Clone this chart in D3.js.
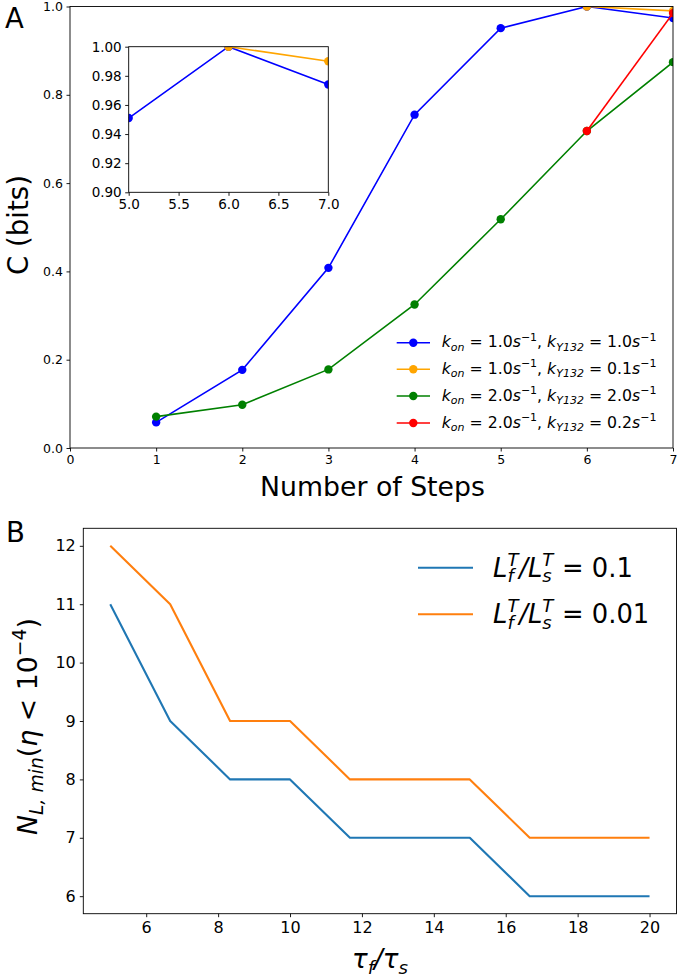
<!DOCTYPE html>
<html><head><meta charset="utf-8">
<script src="https://cdn.jsdelivr.net/npm/d3@7"></script>
<style>body{margin:0;background:#fff} svg{display:block} text{font-family:"DejaVu Sans",sans-serif;fill:#000}</style>
</head><body><svg id="c" width="678" height="978"></svg>
<script>
// ---------- Data: panel A ----------
const stepsX   = [1, 2, 3, 4, 5, 6, 7];
const stepTicks = [0, 1, 2, 3, 4, 5, 6, 7];
const cTicks   = [0.0, 0.2, 0.4, 0.6, 0.8, 1.0];
const blueC    = [0.058, 0.177, 0.408, 0.755, 0.951, 1.000, 0.974];
const orangeX  = [6, 7];
const orangeC  = [1.000, 0.990];
const greenC   = [0.071, 0.098, 0.178, 0.325, 0.518, 0.718, 0.874];
const redX     = [6, 7];
const redC     = [0.718, 0.985];
const insetXTicks = [5.0, 5.5, 6.0, 6.5, 7.0];
const insetYTicks = [0.90, 0.92, 0.94, 0.96, 0.98, 1.00];
const konVals = ["1.0", "1.0", "2.0", "2.0"];
const kyVals  = ["1.0", "0.1", "2.0", "0.2"];
const colorsA = ["#0000ff", "#ffa500", "#008000", "#ff0000"];

// ---------- Data: panel B ----------
const tauRatio = [5, 6.667, 8.333, 10, 11.667, 13.333, 15, 16.667, 18.333, 20];
const nl01  = [11, 9, 8, 8, 7, 7, 7, 6, 6, 6];
const nl001 = [12, 11, 9, 9, 8, 8, 8, 7, 7, 7];
const tauTicks = [6, 8, 10, 12, 14, 16, 18, 20];
const nTicks = [6, 7, 8, 9, 10, 11, 12];
const legendBVals = ["0.1", "0.01"];
const colorsB = ["#1f77b4", "#ff7f0e"];

const svg = d3.select("#c");

// ---------- math text helpers ----------
function mathText(parent, segs, fs) {
  const t = parent.append("text").attr("font-size", fs).style("white-space","pre");
  let shift = 0;
  segs.forEach(s => {
    const lvl = s.sub ? 0.22 * fs : (s.sup ? -0.42 * fs : 0);
    t.append("tspan").text(s.t)
      .attr("font-size", (s.sub || s.sup) ? fs * 0.7 : fs)
      .attr("font-style", s.i ? "italic" : "normal")
      .attr("dy", lvl - shift);
    shift = lvl;
  });
  return t;
}
function fitMath(parent, segs, width) {
  const probe = mathText(parent, segs, 20);
  const w = probe.node().getBBox().width;
  probe.remove();
  return { fs: 20 * width / w };
}
function measure(txt, size, italic) {
  const p = svg.append("text").text(txt).attr("font-size", size).style("white-space","pre")
    .attr("font-style", italic ? "italic" : "normal");
  const w = p.node().getComputedTextLength();
  p.remove();
  return w;
}

// ---------- Panel A ----------
const A = {l:70, r:673, t:6.5, b:448};
const xA = d3.scaleLinear().domain([0, 7]).range([A.l, A.r]);
const yA = d3.scaleLinear().domain([0, 1]).range([A.b, A.t]);

const defs = svg.append("defs");
defs.append("clipPath").attr("id","clipA")
  .append("rect").attr("x",A.l).attr("y",A.t).attr("width",A.r-A.l).attr("height",A.b-A.t);

function styleAxis(g, fs) {
  g.select(".domain").remove();
  g.selectAll(".tick line").attr("stroke","#000").attr("stroke-width",0.9);
  g.selectAll(".tick text").attr("font-size", fs).attr("fill","#000")
    .attr("font-family","DejaVu Sans");
}

const gxA = svg.append("g").attr("transform",`translate(0,${A.b})`)
  .call(d3.axisBottom(xA).tickValues(stepTicks).tickFormat(d3.format("d")).tickSize(3.5).tickPadding(3.5));
styleAxis(gxA, 12.5);
const gyA = svg.append("g").attr("transform",`translate(${A.l},0)`)
  .call(d3.axisLeft(yA).tickValues(cTicks).tickFormat(d3.format(".1f")).tickSize(3.5).tickPadding(3.5));
styleAxis(gyA, 12.5);

const lineA = d3.line().x(d => xA(d[0])).y(d => yA(d[1]));
const seriesA = [
  d3.zip(stepsX, blueC),
  d3.zip(orangeX, orangeC),
  d3.zip(stepsX, greenC),
  d3.zip(redX, redC)
];
const plotA = svg.append("g").attr("clip-path","url(#clipA)");
seriesA.forEach((s, i) => {
  plotA.append("path").attr("d", lineA(s)).attr("fill","none")
    .attr("stroke", colorsA[i]).attr("stroke-width",1.6);
  plotA.selectAll(null).data(s).enter().append("circle")
    .attr("cx", d => xA(d[0])).attr("cy", d => yA(d[1])).attr("r",4.2)
    .attr("fill", colorsA[i]);
});
svg.append("rect").attr("x",A.l).attr("y",A.t).attr("width",A.r-A.l).attr("height",A.b-A.t)
  .attr("fill","none").attr("stroke","#000").attr("stroke-width",0.9);

// Inset
const I = {l:128.7, r:328.3, t:46.7, b:192.3};
const xI = d3.scaleLinear().domain([5, 7]).range([I.l, I.r]);
const yI = d3.scaleLinear().domain([0.9, 1.0]).range([I.b, I.t]);
svg.append("rect").attr("x",I.l).attr("y",I.t).attr("width",I.r-I.l).attr("height",I.b-I.t)
  .attr("fill","#fff");
defs.append("clipPath").attr("id","clipI")
  .append("rect").attr("x",I.l).attr("y",I.t).attr("width",I.r-I.l).attr("height",I.b-I.t);
const gxI = svg.append("g").attr("transform",`translate(0,${I.b})`)
  .call(d3.axisBottom(xI).tickValues(insetXTicks).tickFormat(d3.format(".1f")).tickSize(3.5).tickPadding(3.5));
styleAxis(gxI, 13.5);
const gyI = svg.append("g").attr("transform",`translate(${I.l},0)`)
  .call(d3.axisLeft(yI).tickValues(insetYTicks).tickFormat(d3.format(".2f")).tickSize(3.5).tickPadding(3.5));
styleAxis(gyI, 13.5);
const lineI = d3.line().x(d => xI(d[0])).y(d => yI(d[1]));
const plotI = svg.append("g").attr("clip-path","url(#clipI)");
[0, 1].forEach(i => {
  const s = seriesA[i].filter(d => d[0] >= 5);
  plotI.append("path").attr("d", lineI(s)).attr("fill","none")
    .attr("stroke", colorsA[i]).attr("stroke-width",1.6);
  plotI.selectAll(null).data(s).enter().append("circle")
    .attr("cx", d => xI(d[0])).attr("cy", d => yI(d[1])).attr("r",4.2)
    .attr("fill", colorsA[i]);
});
svg.append("rect").attr("x",I.l).attr("y",I.t).attr("width",I.r-I.l).attr("height",I.b-I.t)
  .attr("fill","none").attr("stroke","#000").attr("stroke-width",0.9);

// Legend A
function legSegs(kon, ky) {
  return [
    {t:"k", i:true}, {t:"on", i:true, sub:true}, {t:" = " + kon},
    {t:"s", i:true}, {t:"−1", sup:true}, {t:", "},
    {t:"k", i:true}, {t:"Y132", i:true, sub:true}, {t:" = " + ky},
    {t:"s", i:true}, {t:"−1", sup:true}
  ];
}
const legAfs = fitMath(svg, legSegs(konVals[0], kyVals[0]), 215).fs;
const legAy = [342.7, 369.3, 396.0, 423.0];
konVals.forEach((k, i) => {
  const y = legAy[i];
  svg.append("line").attr("x1",396.7).attr("x2",430).attr("y1",y).attr("y2",y)
    .attr("stroke", colorsA[i]).attr("stroke-width",1.6);
  svg.append("circle").attr("cx",413.3).attr("cy",y).attr("r",4.2).attr("fill",colorsA[i]);
  mathText(svg, legSegs(k, kyVals[i]), legAfs).attr("x",441.7).attr("y", y + 4.5);
});

// Axis labels A
{
  const segs = [{t:"C (bits)"}];
  const fs = fitMath(svg, segs, 100).fs;
  mathText(svg, segs, fs).attr("text-anchor","middle")
    .attr("transform","translate(28,225) rotate(-90)");
  const segs2 = [{t:"Number of Steps"}];
  const fs2 = fitMath(svg, segs2, 225).fs;
  mathText(svg, segs2, fs2).attr("text-anchor","middle").attr("x",372.5).attr("y",496);
}
svg.append("text").text("A").attr("x",5).attr("y",28).attr("font-size",27.5);

// ---------- Panel B ----------
const B = {l:83.3, r:676.5, t:528.3, b:913.7};
const xB = d3.scaleLinear().domain([4.25, 20.75]).range([B.l, B.r]);
const yB = d3.scaleLinear().domain([5.7, 12.3]).range([B.b, B.t]);
const gxB = svg.append("g").attr("transform",`translate(0,${B.b})`)
  .call(d3.axisBottom(xB).tickValues(tauTicks).tickFormat(d3.format("d")).tickSize(3.5).tickPadding(4));
styleAxis(gxB, 16);
const gyB = svg.append("g").attr("transform",`translate(${B.l},0)`)
  .call(d3.axisLeft(yB).tickValues(nTicks).tickFormat(d3.format("d")).tickSize(3.5).tickPadding(4));
styleAxis(gyB, 16);
const lineB = d3.line().x(d => xB(d[0])).y(d => yB(d[1]));
[nl01, nl001].forEach((vals, i) => {
  svg.append("path").attr("d", lineB(d3.zip(tauRatio, vals))).attr("fill","none")
    .attr("stroke", colorsB[i]).attr("stroke-width",2.1).attr("stroke-linejoin","round");
});
svg.append("rect").attr("x",B.l).attr("y",B.t).attr("width",B.r-B.l).attr("height",B.b-B.t)
  .attr("fill","none").attr("stroke","#000").attr("stroke-width",0.9);

// Legend B: one text element, tspans placed at absolute positions (stacked sup/sub)
function legBLayout(v, fs) {
  const parts = [];
  let cx = 0;
  const s = fs * 0.7;
  const put = (txt, size, dy, it) => {
    const w = measure(txt, size, it);
    parts.push({txt, size, dy, it, x: cx});
    return w;
  };
  cx += put("L", fs, 0, true);
  const w1 = put("T", s, -0.42 * fs, true);
  const w2 = put("f", s, 0.22 * fs, true);
  cx += Math.max(w1, w2) + 0.03 * fs;
  cx += put("/", fs, 0, true);
  cx += put("L", fs, 0, true);
  const w3 = put("T", s, -0.42 * fs, true);
  const w4 = put("s", s, 0.22 * fs, true);
  cx += Math.max(w3, w4) + 0.02 * fs;
  cx += put(" = " + v, fs, 0, false);
  return {parts, width: cx};
}
function drawLegB(v, fs, x, y) {
  const lay = legBLayout(v, fs);
  const t = svg.append("text").attr("font-size", fs).style("white-space","pre");
  lay.parts.forEach(p => {
    t.append("tspan").text(p.txt).attr("x", x + p.x).attr("y", y + p.dy)
      .attr("font-size", p.size).attr("font-style", p.it ? "italic" : "normal");
  });
  return t;
}
{
  const w20 = legBLayout(legendBVals[0], 20).width;
  const fsB = 20 * 140 / w20;
  const ys = [567.7, 614.3];
  legendBVals.forEach((v, i) => {
    svg.append("line").attr("x1",418).attr("x2",473).attr("y1",ys[i]).attr("y2",ys[i])
      .attr("stroke", colorsB[i]).attr("stroke-width",2.1);
    drawLegB(v, fsB, 493, ys[i] + 9);
  });
}

// Axis labels B
{
  const segs = [{t:"N", i:true}, {t:"L, min", i:true, sub:true}, {t:"("}, {t:"η", i:true},
                {t:" < 10"}, {t:"−4", sup:true}, {t:")"}];
  const fs = fitMath(svg, segs, 217).fs;
  mathText(svg, segs, fs).attr("text-anchor","middle")
    .attr("transform","translate(37,726.5) rotate(-90)");
  const segs2 = [{t:"τ", i:true}, {t:"f", i:true, sub:true}, {t:"/", i:true}, {t:"τ", i:true}, {t:"s", i:true, sub:true}];
  const fs2 = fitMath(svg, segs2, 56).fs;
  mathText(svg, segs2, fs2).attr("text-anchor","middle").attr("x",380).attr("y",968);
}
svg.append("text").text("B").attr("x",6).attr("y",541.7).attr("font-size",27.5);
</script>
</body></html>
